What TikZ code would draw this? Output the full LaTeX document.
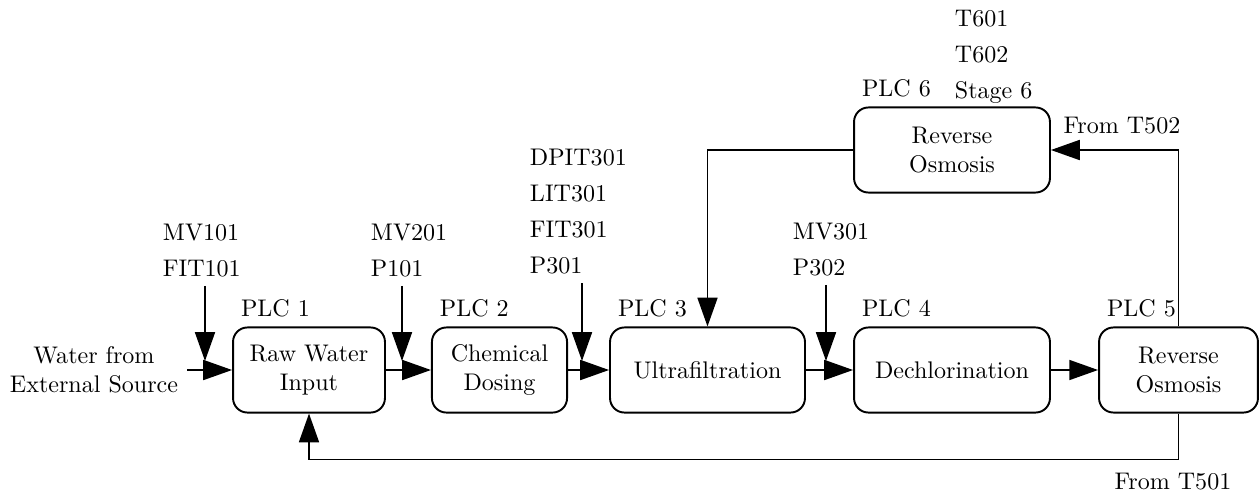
\documentclass[tikz,border=0pt]{standalone}
\usetikzlibrary{arrows.meta}

\tikzset{every picture/.style={line width=0.8pt}}
\tikzset{
  stage/.style={draw, rounded corners=6pt, align=center, minimum height=35.4pt, inner sep=2pt},
  tags/.style={align=left, anchor=north west},
  plc/.style={above right},
  flow/.style={-{Triangle[length=12pt,width=8.3pt]}},
}

\begin{document}
\begin{tikzpicture}[x=0.416pt,y=0.416pt,yscale=-1,xscale=1]
\useasboundingbox (0,0) rectangle (1259,492);

%Stages
\node [stage, minimum width=63.2pt] (raw) at (309,370) {Raw Water\\Input};
\node [stage, minimum width=56.2pt] (chem) at (499.5,370) {Chemical\\Dosing};
\node [stage, minimum width=81.1pt] (uf) at (707.5,370) {Ultrafiltration};
\node [stage, minimum width=81.5pt] (dechl) at (952,370) {Dechlorination};
\node [stage, minimum width=66.1pt] (ro5) at (1178.5,370) {Reverse\\Osmosis};
\node [stage, minimum width=81.5pt] (ro6) at (952,150) {Reverse\\Osmosis};

% PLC labels
\node [plc] (plc1) at (raw.north west) {PLC 1};
\node [plc] (plc2) at (chem.north west) {PLC 2};
\node [plc] (plc3) at (uf.north west) {PLC 3};
\node [plc] (plc4) at (dechl.north west) {PLC 4};
\node [plc] (plc5) at (ro5.north west) {PLC 5};
\node [plc] (plc6) at (ro6.north west) {PLC 6};

% Text Node
\node [align=center] (src) at (94,370) {Water from\\External Source};
% Text Node
\node [tags] (tags1) at (154,215) {MV101\\[3pt]FIT101};
\node [tags] (tags2) at (362,215) {MV201\\[3pt]P101};
\node [tags] (tags3) at (521,140) {DPIT301\\[3pt]LIT301\\[3pt]FIT301\\[3pt]P301};
\node [tags] (tags4) at (784,214) {MV301\\[3pt]P302};
\node [tags] (tags6) at (946,1) {T601\\[3pt]T602\\[3pt]Stage 6};
% Text Node
\node (t502) at (1122,126) {From T502};
\node (t501) at (1173,482) {From T501};

%Sensor inputs
\coordinate (in1) at (205,361);
\coordinate (in2) at (402,361);
\coordinate (in3) at (582,361);
\coordinate (in4) at (826,361);
\draw [flow] (tags1.south -| in1) -- (in1);
\draw [flow] (tags2.south -| in2) -- (in2);
\draw [flow] (tags3.south -| in3) -- (in3);
\draw [flow] (tags4.south -| in4) -- (in4);

%Main flow
\draw [flow] (src) -- (raw);
\draw [flow] (raw) -- (chem);
\draw [flow] (chem) -- (uf);
\draw [flow] (uf) -- (dechl);
\draw [flow] (dechl) -- (ro5);

%Return lines
\draw [flow] (ro5.north) |- (ro6.east);
\draw [flow] (ro6.west) -| (uf.north);
\draw [flow] (ro5.south) -- ++(0,46) -| (raw.south);

\end{tikzpicture}
\end{document}
